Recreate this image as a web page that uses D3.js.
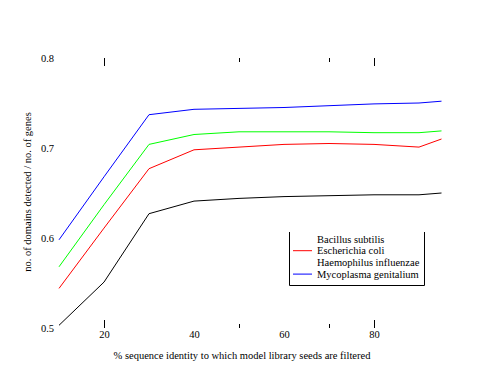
<!DOCTYPE html>
<meta charset="utf-8">
<style>
body { margin: 0; background: #fff; }
text { font-family: "Liberation Serif", "Times New Roman", serif; font-size: 10.5px; fill: #000; }
.line { fill: none; stroke-width: 1; }
</style>
<body>
<div id="chart"></div>
<script src="https://cdn.jsdelivr.net/npm/d3@7"></script>
<script>
// % identity thresholds
var identity = [10, 20, 30, 40, 50, 60, 70, 80, 90, 95];

// domains detected / genes, one array per organism
var bacillus    = [0.503, 0.551, 0.627, 0.641, 0.644, 0.646, 0.647, 0.648, 0.648, 0.650];
var ecoli       = [0.544, 0.611, 0.677, 0.698, 0.701, 0.704, 0.705, 0.704, 0.701, 0.710];
var haemophilus = [0.568, 0.637, 0.704, 0.715, 0.718, 0.718, 0.718, 0.717, 0.717, 0.719];
var mycoplasma  = [0.598, 0.668, 0.737, 0.743, 0.744, 0.745, 0.747, 0.749, 0.750, 0.752];

var seriesNames = ["Bacillus subtilis", "Escherichia coli", "Haemophilus influenzae", "Mycoplasma genitalium"];
var seriesColors = ["#000000", "#ff0000", "#00ff00", "#0000ff"];
var legendShown = [false, true, false, true];   // samples visible in the legend

var xLabels = [20, 40, 60, 80];
var majorTicks = [20, 80];
var minorTicks = [50, 70];
var yLabels = [0.5, 0.6, 0.7, 0.8];

var width = 500, height = 386;

var svg = d3.select("#chart").append("svg")
    .attr("width", width)
    .attr("height", height);

// scales
var x = d3.scaleLinear().domain([10, 95]).range([59, 441.5]);
var y = d3.scaleLinear().domain([0.5, 0.8]).range([328, 58]);

// tick marks on top and bottom edges
function ticks(vals, size) {
  svg.append("g")
      .attr("transform", "translate(0,58)")
      .call(d3.axisBottom(x).tickValues(vals).tickSize(size).tickFormat(""))
      .call(g => g.select(".domain").remove());
  svg.append("g")
      .attr("transform", "translate(0,328)")
      .call(d3.axisTop(x).tickValues(vals).tickSize(size).tickFormat(""))
      .call(g => g.select(".domain").remove());
}
ticks(majorTicks, 8);
ticks(minorTicks, 4);

// x labels
svg.append("g")
    .attr("transform", "translate(0,331)")
    .call(d3.axisBottom(x).tickValues(xLabels).tickSize(0).tickPadding(0))
    .call(g => g.select(".domain").remove())
    .selectAll("text").attr("font-size", null);

// y labels
svg.append("g")
    .attr("transform", "translate(54,0)")
    .call(d3.axisLeft(y).tickValues(yLabels).tickSize(0).tickPadding(0).tickFormat(d3.format(".1f")))
    .call(g => g.select(".domain").remove())
    .selectAll("text").attr("font-size", null);

svg.selectAll(".tick line").attr("stroke", "#000");
svg.selectAll("g").attr("font-family", null).attr("font-size", null);

// lines
var allSeries = [bacillus, ecoli, haemophilus, mycoplasma];
var line = d3.line()
    .x(function(d, i) { return x(identity[i]); })
    .y(function(d) { return y(d); });

svg.selectAll(".line")
    .data(allSeries)
  .enter().append("path")
    .attr("class", "line")
    .attr("stroke", function(d, i) { return seriesColors[i]; })
    .attr("d", line);

// axis titles
svg.append("text")
    .attr("x", 242)
    .attr("y", 359)
    .attr("text-anchor", "middle")
    .text("% sequence identity to which model library seeds are filtered");

svg.append("text")
    .attr("transform", "translate(31,192) rotate(-90)")
    .attr("text-anchor", "middle")
    .text("no. of domains detected / no. of genes");

// legend (box without a top edge)
var lg = svg.append("g");
lg.append("path")
    .attr("d", "M289.5,232V285.5H424.5V232")
    .attr("fill", "none")
    .attr("stroke", "#000");

var rows = lg.selectAll(".row")
    .data(seriesNames)
  .enter().append("g")
    .attr("transform", function(d, i) { return "translate(0," + (239 + i * 11.7) + ")"; });

rows.append("line")
    .attr("x1", 293).attr("x2", 312)
    .attr("stroke", function(d, i) { return seriesColors[i]; })
    .attr("stroke-opacity", function(d, i) { return legendShown[i] ? 1 : 0; });

rows.append("text")
    .attr("x", 317)
    .attr("dy", "0.35em")
    .text(function(d) { return d; });
</script>
</body>
